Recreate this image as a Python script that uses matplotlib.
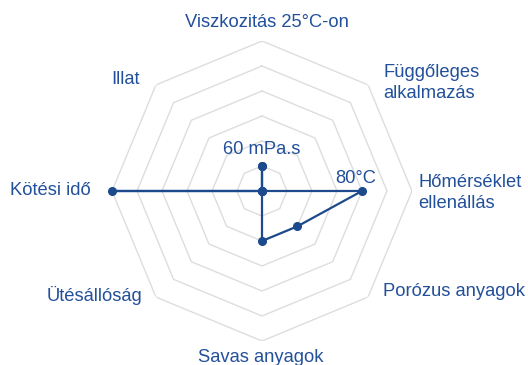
import numpy as np
import matplotlib.pyplot as plt

plt.rcParams['font.family'] = ['Liberation Sans', 'DejaVu Sans']

categories = ['Viszkozitás 25°C-on', 'Függőleges\nalkalmazás', 'Hőmérséklet\nellenállás',
              'Porózus anyagok', 'Savas anyagok', 'Ütésállóság', 'Kötési idő', 'Illat']
values = [1, 0, 4, 2, 2, 0, 6, 0]
point_labels = ['60 mPa.s', '', '80°C', '', '', '', '', '']
r_max = 6

line_color = '#1c4a8c'
text_color = '#23509a'
grid_color = '#dddddd'

# label offsets from the outer vertex, in pixels (dx, dy up), plus alignment
label_layout = [
    (5, 19, 'center'), (15, 2, 'left'), (6, -2, 'left'), (15, 6, 'left'),
    (-1, -17, 'center'), (-14, 2, 'right'), (-21, 1, 'right'), (-16, 5, 'right'),
]
point_label_offsets = [(0, 17), None, (-6, 13), None, None, None, None, None]

n = len(categories)
angles = np.arange(n) * 2 * np.pi / n

fig = plt.figure(figsize=(5.28, 3.65), dpi=100)
ax = fig.add_axes([112 / 528, 24 / 365, 300 / 528, 300 / 365], projection='polar')
ax.set_theta_zero_location('N')
ax.set_theta_direction(-1)
ax.set_ylim(0, r_max)
ax.axis('off')

# octagonal rings
ring_angles = np.append(angles, angles[0])
for r in range(1, r_max + 1):
    ax.plot(ring_angles, [r] * (n + 1), color=grid_color, lw=1, zorder=1)

# data polygon
ax.plot(np.append(angles, angles[0]), values + values[:1], color=line_color,
        lw=1.6, marker='o', ms=5.5, zorder=3, clip_on=False)

px = 0.72  # pixels -> points
for ang, name, (dx, dy, ha) in zip(angles, categories, label_layout):
    ax.annotate(name, xy=(ang, r_max), xytext=(dx * px, dy * px),
                textcoords='offset points', ha=ha, va='center',
                fontsize=13.2, color=text_color, linespacing=1.25,
                annotation_clip=False)

for ang, v, txt, off in zip(angles, values, point_labels, point_label_offsets):
    if txt:
        ax.annotate(txt, xy=(ang, v), xytext=(off[0] * px, off[1] * px),
                    textcoords='offset points', ha='center', va='center',
                    fontsize=13.2, color=text_color)

fig.savefig('out.png', dpi=100)
